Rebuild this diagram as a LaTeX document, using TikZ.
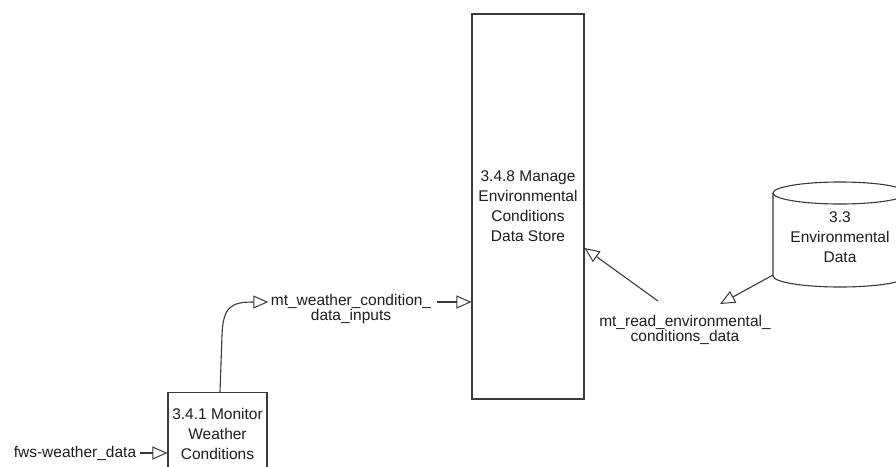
\documentclass[tikz,border=0pt]{standalone}
\usepackage{fontspec}
\setmainfont{Liberation Sans}
\usetikzlibrary{arrows.meta,calc}
\definecolor{ln}{HTML}{3A3A3A}
\definecolor{txt}{HTML}{1E1E1E}
\begin{document}
\begin{tikzpicture}[x=1pt,y=-1pt, line width=1.1pt,
  every node/.style={font=\fontsize{15.5}{20}\selectfont, text=txt},
  proc/.style={draw=ln, rectangle, align=center, inner sep=0pt},
  lbl/.style={align=center, inner sep=0pt, font=\fontsize{15.5}{14.5}\selectfont},
  flow/.style={draw=ln, -{Triangle[open,length=15pt,width=13pt,line width=1pt]}}]
\useasboundingbox (0,0) rectangle (896,466);
\fill[white] (0,0) rectangle (896,466);
\begin{scope}
\clip (0,0) rectangle (896,466);
% processes
\node[proc, minimum width=112pt, minimum height=385pt] (store) at (528,206.5)
  {3.4.8 Manage\\Environmental\\Conditions\\Data Store};
\node[proc, minimum width=99pt, minimum height=82pt, anchor=north] (mon) at (217.5,392)
  {3.4.1 Monitor\\Weather\\Conditions};
% data store cylinder
\draw[ln] (840,193) ellipse [x radius=67pt, y radius=11pt];
\draw[ln] (773,193) -- (773,276) arc[start angle=180, end angle=360, x radius=67pt, y radius=11pt] -- (907,193);
\node[align=center, inner sep=0pt] (env) at (840,237) {3.3\\Environmental\\Data};
\coordinate (envc) at (773,275);
% labels
\node[lbl] (fws) at (75,453) {fws-weather\_data};
\node[lbl] (wlab) at (351,309) {mt\_weather\_condition\_\\data\_inputs};
\node[lbl] (rlab) at (685,330) {mt\_read\_environmental\_\\conditions\_data};
% flows
\draw[flow] ($(fws.east)+(3,0)$) -- (mon.west |- fws.east);
\draw[flow] ([xshift=2.5pt]mon.north) -- (222,335) .. controls (223,306) and (232,302) .. ($(wlab.west)+(-2,-7)$);
\draw[flow] ($(wlab.east)+(5,-7)$) -- ($(store.west)+(0,95.5)$);
\draw[flow] (envc) -- ($(rlab.north)+(35,-11)$);
\draw[flow] ($(rlab.north)+(-27,-14)$) -- ($(store.east)+(0,41.5)$);
\end{scope}
\end{tikzpicture}
\end{document}
